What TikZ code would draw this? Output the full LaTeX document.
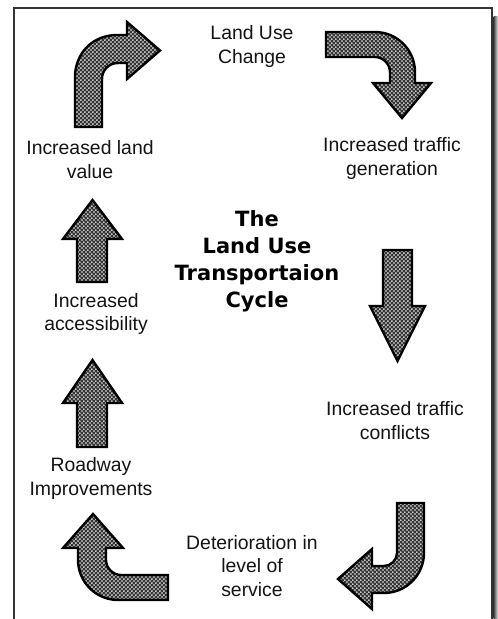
\documentclass[tikz,border=0pt]{standalone}
\usepackage{fontspec}
\setmainfont{Liberation Sans}
\newfontfamily\titlefont{DejaVu Sans}
\usetikzlibrary{patterns.meta}
\tikzdeclarepattern{
  name=wdots,
  type=uncolored,
  bottom left={(0pt,0pt)},
  top right={(4.4pt,4.4pt)},
  tile size={(4.4pt,4.4pt)},
  code={
    \fill (1.1pt,1.1pt) circle (1pt);
    \fill (3.3pt,3.3pt) circle (1pt);
  }
}
\tikzset{
  blockarrow/.style={preaction={fill=black!80}, pattern=wdots, pattern color=white,
    draw=black, line width=2.4pt, line join=miter},
  lbl/.style={align=center, inner sep=0pt, text=black!92,
    font=\fontsize{19.4}{23.5}\selectfont},
  ttl/.style={align=center, inner sep=0pt, text=black,
    font=\titlefont\bfseries\fontsize{21}{27}\selectfont},
}
\begin{document}
\begin{tikzpicture}[x=1pt,y=-1pt]
\useasboundingbox (0,0) rectangle (498,619);
\fill[white] (0,0) rectangle (498,619);
% frame and shadow
\shade[left color=black!75, right color=black!8] (493.5,16) rectangle (498,619);
\draw[line width=2pt, draw=black!80] (14,630) -- (14,8) -- (492,8) -- (492,630);

% labels
\node[lbl] (luc) at (252,46.5) {Land Use\\Change};
\node[lbl] (itg) at (392,158.5) {Increased traffic\\generation};
\node[lbl] (itc) at (395,420.5) {Increased traffic\\conflicts};
\node[lbl] (dls) at (252,566) {Deterioration in\\level of\\service};
\node[lbl] (rim) at (91,478.5) {Roadway\\Improvements};
\node[lbl] (iac) at (96,314) {Increased\\accessibility};
\node[lbl] (ilv) at (90,159.5) {Increased land\\value};
\node[ttl] (title) at (257,261) {The\\Land Use\\Transportaion\\Cycle};

% arrow 1: up then right
\path[blockarrow] (75,127) -- (75,77) .. controls (75,54) and (92,35) .. (117,35)
  -- (127,35) -- (127,22) -- (160,50.5) -- (127,79) -- (127,63) -- (118,63)
  .. controls (109,63) and (102,70) .. (102,79) -- (102,127) -- cycle;
% arrow 2: right then down
\path[blockarrow] (326,32) -- (375,32) .. controls (397,32) and (415,50) .. (415,72)
  -- (415,83) -- (431,83) -- (402,118) -- (373,83) -- (390,83) -- (390,72)
  .. controls (390,64) and (383,57) .. (375,57) -- (326,57) -- cycle;
% arrow 3: straight down
\path[blockarrow] (383,250) -- (412,250) -- (412,306) -- (425,306) -- (397.5,361)
  -- (370,306) -- (383,306) -- cycle;
% arrow 4: down then left
\path[blockarrow] (397,503) -- (424,503) -- (424,553) .. controls (424,575) and (406,593) .. (384,593)
  -- (372,593) -- (372,609) -- (338,579) -- (372,549) -- (372,566) -- (384,566)
  .. controls (391,566) and (397,560) .. (397,553) -- cycle;
% arrow 5: left then up
\path[blockarrow] (93,514) -- (123,548) -- (106,548) -- (106,560)
  .. controls (106,568) and (113,575) .. (121,575) -- (168,575) -- (168,600) -- (118,600)
  .. controls (96,600) and (78,582) .. (78,560) -- (78,548) -- (63,548) -- cycle;
% arrow 6: lower up
\path[blockarrow] (77,447) -- (77,403) -- (63,403) -- (92.5,360) -- (122,403) -- (107,403)
  -- (107,447) -- cycle;
% arrow 7: upper up
\path[blockarrow] (77,282) -- (77,239) -- (63,239) -- (92.5,200) -- (122,239) -- (107,239)
  -- (107,282) -- cycle;
\end{tikzpicture}
\end{document}
